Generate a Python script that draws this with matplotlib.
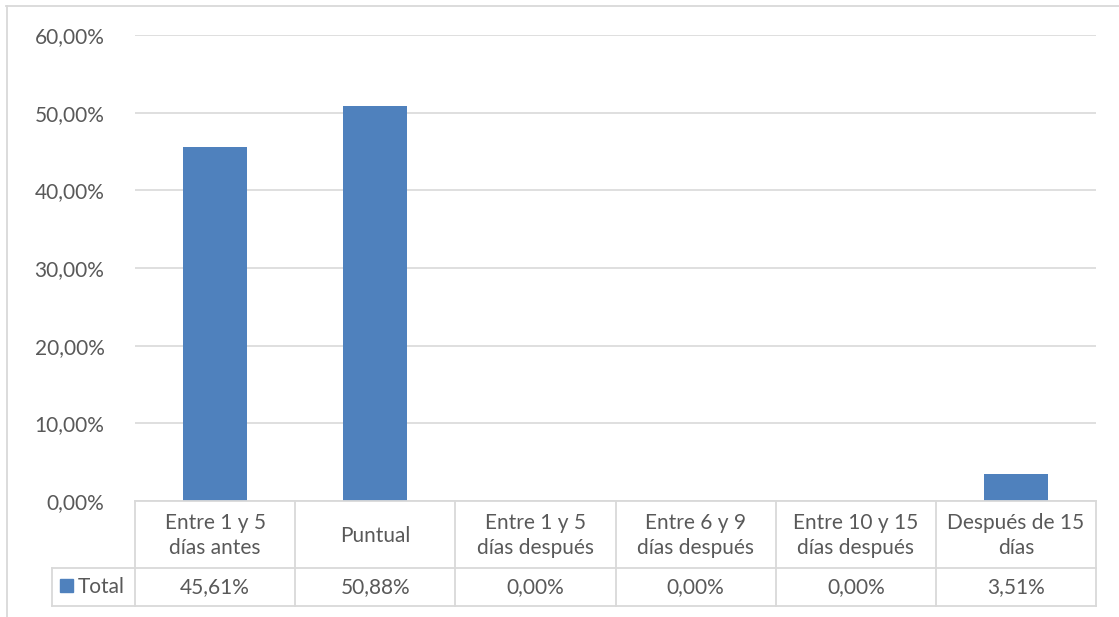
import matplotlib
matplotlib.use("Agg")
import matplotlib.pyplot as plt
from matplotlib.lines import Line2D
from matplotlib.patches import Rectangle

categories = ["Entre 1 y 5\ndías antes", "Puntual", "Entre 1 y 5\ndías después",
              "Entre 6 y 9\ndías después", "Entre 10 y 15\ndías después", "Después de 15\ndías"]
values = [0.4561, 0.5088, 0.0, 0.0, 0.0, 0.0351]
value_labels = ["45,61%", "50,88%", "0,00%", "0,00%", "0,00%", "3,51%"]
yticks = [0.0, 0.1, 0.2, 0.3, 0.4, 0.5, 0.6]
ytick_labels = ["0,00%", "10,00%", "20,00%", "30,00%", "40,00%", "50,00%", "60,00%"]
series_name = "Total"

W, H = 1119, 617
BAR = "#4f81bd"
GRID = "#d9d9d9"
TXT = "#595959"
FONT = "Lato"
FS = 15

plt.rcParams['font.family'] = [FONT, 'DejaVu Sans']

fig = plt.figure(figsize=(W/100, H/100), dpi=100)

def fx(px): return px / W
def fy(py): return 1 - py / H

ax_left, ax_right, ax_top, ax_bot = 135, 1096, 35, 501
ax = fig.add_axes([fx(ax_left), fy(ax_bot), fx(ax_right - ax_left), (ax_bot - ax_top) / H])
x = list(range(len(categories)))
ax.bar(x, values, width=0.4, color=BAR, zorder=3)
ax.set_xlim(-0.5, len(categories) - 0.5)
ax.set_ylim(0, 0.6)
ax.set_yticks(yticks)
ax.set_yticklabels(ytick_labels, fontsize=FS, color=TXT)
ax.tick_params(axis='y', length=0, pad=22)
ax.set_xticks([])
for s in ax.spines.values():
    s.set_visible(False)
ax.grid(axis='y', color=GRID, linewidth=1.2, zorder=0)
ax.set_facecolor('none')

# data table in figure pixel coordinates
def hline(y, x0, x1):
    fig.add_artist(Line2D([fx(x0), fx(x1)], [fy(y), fy(y)], color=GRID, lw=1.3, transform=fig.transFigure))
def vline(xp, y0, y1):
    fig.add_artist(Line2D([fx(xp), fx(xp)], [fy(y0), fy(y1)], color=GRID, lw=1.3, transform=fig.transFigure))

row0, row1, row2 = 501, 568, 606
leg_left = 52
hline(row0, ax_left, ax_right)
hline(row1, leg_left, ax_right)
hline(row2, leg_left, ax_right)
vline(leg_left, row1, row2)
n = len(categories)
colw = (ax_right - ax_left) / n
for i in range(n + 1):
    vline(ax_left + i * colw, row0, row2)

for i, (cat, lab) in enumerate(zip(categories, value_labels)):
    cx = ax_left + (i + 0.5) * colw
    fig.text(fx(cx), fy((row0 + row1) / 2 + 1), cat, ha='center', va='center', fontsize=FS,
             color=TXT, linespacing=1.3)
    fig.text(fx(cx), fy((row1 + row2) / 2), lab, ha='center', va='center', fontsize=FS, color=TXT)

# legend key
fig.add_artist(Rectangle((fx(60), fy(592)), fx(13), 13 / H, color=BAR, transform=fig.transFigure))
fig.text(fx(78), fy((row1 + row2) / 2), series_name, ha='left', va='center', fontsize=FS, color=TXT)

# outer chart border (partially visible)
fig.add_artist(Line2D([fx(6), fx(W)], [fy(5.5), fy(5.5)], color=GRID, lw=1.3, transform=fig.transFigure))
fig.add_artist(Line2D([fx(6.5), fx(6.5)], [fy(5.5), fy(H)], color=GRID, lw=1.3, transform=fig.transFigure))

fig.savefig("out.png", dpi=100, facecolor="white")
